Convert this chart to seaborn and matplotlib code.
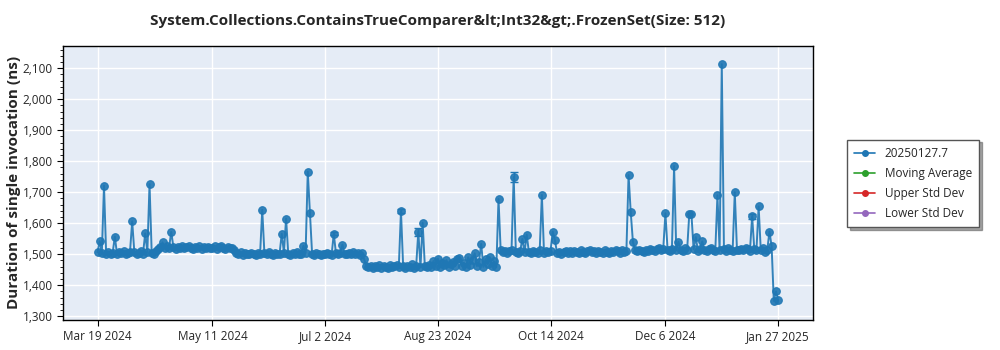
import matplotlib
matplotlib.use("Agg")
import matplotlib.pyplot as plt
from matplotlib.lines import Line2D
from matplotlib.ticker import AutoMinorLocator, FuncFormatter
import seaborn as sns
import pandas as pd

# Daily benchmark results starting 2024-03-19 (ns per invocation)
start_date = "2024-03-19"
durations = [
    1506, 1542, 1503, 1721, 1499, 1508, 1502,
    1505, 1557, 1500, 1507, 1503, 1510, 1501,
    1504, 1508, 1606, 1506, 1499, 1503, 1509,
    1502, 1567, 1507, 1726, 1505, 1500, 1511,
    1516, 1522, 1538, 1519, 1526, 1520, 1572,
    1524, 1518, 1523, 1521, 1527, 1519, 1522,
    1525, 1520, 1517, 1523, 1521, 1526, 1518,
    1522, 1520, 1524, 1519, 1521, 1525, 1518,
    1522, 1527, 1520, 1516, 1523, 1519, 1521,
    1515, 1504, 1500, 1506, 1498, 1503, 1501,
    1499, 1505, 1502, 1497, 1504, 1500, 1643,
    1503, 1499, 1506, 1501, 1498, 1504, 1500,
    1502, 1566, 1505, 1615, 1501, 1498, 1503,
    1500, 1506, 1499, 1502, 1527, 1504, 1766,
    1633, 1501, 1497, 1503, 1500, 1496, 1502,
    1499, 1504, 1501, 1498, 1566, 1503, 1500,
    1505, 1531, 1502, 1499, 1504, 1500, 1506,
    1501, 1503, 1498, 1504, 1484, 1462, 1458,
    1461, 1456, 1463, 1459, 1465, 1457, 1462,
    1460, 1455, 1464, 1458, 1461, 1466, 1459,
    1639, 1462, 1457, 1463, 1460, 1467, 1456,
    1461, 1573, 1458, 1601, 1463, 1459, 1465,
    1460, 1478, 1462, 1486, 1458, 1470, 1464,
    1481, 1459, 1467, 1476, 1461, 1484, 1487,
    1463, 1472, 1458, 1490, 1466, 1480, 1503,
    1462, 1475, 1533, 1459, 1484, 1468, 1490,
    1461, 1477, 1458, 1678, 1512, 1506, 1510,
    1504, 1509, 1513, 1749, 1507, 1505, 1511,
    1549, 1506, 1563, 1508, 1504, 1510, 1507,
    1505, 1512, 1691, 1503, 1509, 1506, 1511,
    1573, 1546, 1504, 1508, 1502, 1507, 1510,
    1505, 1509, 1503, 1511, 1506, 1504, 1512,
    1507, 1503, 1510, 1515, 1506, 1509, 1504,
    1511, 1507, 1505, 1513, 1508, 1504, 1510,
    1506, 1512, 1509, 1505, 1514, 1508, 1511,
    1755, 1635, 1540, 1512, 1509, 1515, 1511,
    1508, 1514, 1510, 1517, 1512, 1509, 1516,
    1520, 1513, 1518, 1632, 1514, 1511, 1517,
    1784, 1513, 1540, 1515, 1510, 1519, 1512,
    1629, 1629, 1516, 1555, 1511, 1518, 1541,
    1514, 1510, 1517, 1520, 1513, 1509, 1690,
    1512, 2113, 1516, 1511, 1519, 1514, 1510,
    1700, 1515, 1512, 1518, 1513, 1521, 1516,
    1511, 1622, 1517, 1514, 1654, 1512, 1519,
    1508, 1515, 1573, 1525, 1349, 1380, 1352,
]

# Runs with a noticeable standard deviation
err_dates = ["2024-07-06", "2024-08-06", "2024-08-14", "2024-09-27", "2025-01-15"]
err_values = [1566, 1639, 1573, 1749, 1622]
err_sizes = [5, 7, 13, 15, 8]

tick_dates = ["2024-03-19", "2024-05-11", "2024-07-02", "2024-08-23",
              "2024-10-14", "2024-12-06", "2025-01-27"]
tick_labels = ["Mar 19 2024", "May 11 2024", "Jul 2 2024", "Aug 23 2024",
               "Oct 14 2024", "Dec 6 2024", "Jan 27 2025"]
y_ticks = [1300, 1400, 1500, 1600, 1700, 1800, 1900, 2000, 2100]

legend_names = ["20250127.7", "Moving Average", "Upper Std Dev", "Lower Std Dev"]
legend_colors = ["#1f77b4", "#2ca02c", "#d62728", "#9467bd"]

title = "System.Collections.ContainsTrueComparer&lt;Int32&gt;.FrozenSet(Size: 512)"

sns.set_style("white")
plt.rcParams["font.family"] = ["Open Sans", "DejaVu Sans"]

df = pd.DataFrame({
    "date": pd.date_range(start_date, periods=len(durations), freq="D"),
    "duration": durations,
})

fig = plt.figure(figsize=(10, 3.5), dpi=100)
ax = fig.add_axes([0.063, 0.086, 0.750, 0.783])
ax.set_facecolor("#e5ecf6")

blue = "#1f77b4"
sns.lineplot(data=df, x="date", y="duration", ax=ax, color=blue, linewidth=1.4,
             marker="o", markersize=5.5, markeredgecolor=blue, markeredgewidth=0.8,
             alpha=0.9)
ax.errorbar(pd.to_datetime(err_dates), err_values, yerr=err_sizes, fmt="none",
            ecolor=blue, elinewidth=1.0, capsize=3, capthick=1.0)

ax.set_xlim(pd.Timestamp("2024-03-03 02:00"), pd.Timestamp("2025-02-12 02:00"))
ax.set_ylim(1288, 2172)
ax.set_xticks(pd.to_datetime(tick_dates))
ax.set_xticklabels(tick_labels, fontsize=8.5)
ax.set_yticks(y_ticks)
ax.yaxis.set_major_formatter(FuncFormatter(lambda v, p: f"{int(v):,}"))
ax.yaxis.set_minor_locator(AutoMinorLocator(5))
ax.tick_params(axis="y", which="major", labelsize=8.5, length=4, color="black", left=True)
ax.tick_params(axis="y", which="minor", length=2, color="black", left=True)
ax.tick_params(axis="x", which="major", length=4, color="black", bottom=True)
ax.grid(True, which="major", color="white", linewidth=1.0)
for s in ax.spines.values():
    s.set_color("black")
    s.set_linewidth(1.0)

ax.set_xlabel("")
ax.set_ylabel("Duration of single invocation (ns)", fontsize=11, fontweight="bold")
ax.yaxis.set_label_coords(-0.056, 0.5)
ax.set_title(title, fontsize=11, fontweight="bold", pad=15)

handles = [Line2D([0], [0], color=c, marker="o", markersize=4, linewidth=1.2)
           for c in legend_colors]
fig.legend(handles, legend_names, loc="upper left", bbox_to_anchor=(0.841, 0.618),
           frameon=True, fancybox=False, shadow=True, edgecolor="#555555",
           fontsize=8.5, handlelength=1.8, labelspacing=0.6, borderpad=0.6)

fig.savefig("out.png", dpi=100, facecolor="white")
